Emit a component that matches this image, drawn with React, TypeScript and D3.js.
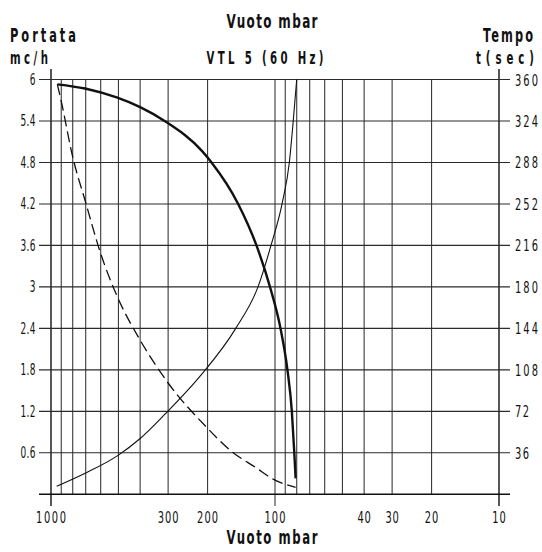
import React from "react";
import * as d3 from "d3";

// ---- data ----
const vacuumGrid = [1000, 900, 800, 700, 600, 500, 400, 300, 200, 100, 90, 80, 70, 60, 50, 40, 30, 20, 10];
const vacuumLabels = [1000, 300, 200, 100, 40, 30, 20, 10];
const flowTicks = [0.6, 1.2, 1.8, 2.4, 3, 3.6, 4.2, 4.8, 5.4, 6];
const flowTickLabels = ["0.6", "1.2", "1.8", "2.4", "3", "3.6", "4.2", "4.8", "5.4", "6"];
const timeTicks = [36, 72, 108, 144, 180, 216, 252, 288, 324, 360];

// Portata (mc/h) vs vuoto (mbar) - thick curve
const flowVacuum = [937, 705, 509, 400, 311, 211, 192, 146, 121, 105.3, 94.5, 88, 84.1, 82, 80.9];
const flowRate = [5.93, 5.87, 5.74, 5.6, 5.4, 4.96, 4.8, 4.2, 3.6, 3.0, 2.4, 1.8, 1.2, 0.6, 0.23];

// Tempo (sec) vs vuoto (mbar) - thin curve
const timeVacuum = [943, 700, 500, 400, 310, 216, 149.7, 119.1, 104.2, 93, 86.3, 82.9, 80.0];
const timeSec = [7, 18.5, 34, 48.4, 69.5, 102.5, 144, 180, 216, 252, 288, 324, 360];

// dashed curve (mc/h scale)
const dashVacuum = [937, 902, 800, 700, 604, 506, 400, 300, 200, 159, 121, 102, 80.9];
const dashValue = [5.93, 5.7, 4.88, 4.22, 3.51, 2.86, 2.23, 1.61, 0.955, 0.64, 0.38, 0.22, 0.1];

const W = 542;
const H = 552;
const FONT = "'DejaVu Sans', 'Liberation Sans', sans-serif";

type TxtProps = {
  x: number;
  y: number;
  text: string;
  size: number;
  w?: number;
  anchor?: "start" | "middle" | "end";
  bold?: boolean;
  sx?: number;
};

function Txt({ x, y, text, size, w, anchor = "start", bold = false, sx = 0.6 }: TxtProps) {
  return (
    <text
      transform={`translate(${x},${y}) scale(${sx},1)`}
      fontFamily={FONT}
      fontSize={size}
      fontWeight={bold ? "bold" : "normal"}
      textAnchor={anchor}
      textLength={w && text.length > 1 ? w / sx : undefined}
      lengthAdjust="spacing"
      fill="#111"
    >
      {text}
    </text>
  );
}

export default function App() {
  const x = d3.scaleLog().domain([1000, 10]).range([51, 499]);
  const yL = d3.scaleLinear().domain([0, 6]).range([494.3, 79.5]);
  const yR = d3.scaleLinear().domain([0, 360]).range([494.3, 79.5]);

  const top = yL(6);
  const bottom = yL(0);

  const lineL = d3
    .line<[number, number]>()
    .x((d) => x(d[0]))
    .y((d) => yL(d[1]))
    .curve(d3.curveMonotoneX);
  const lineR = d3
    .line<[number, number]>()
    .x((d) => x(d[0]))
    .y((d) => yR(d[1]))
    .curve(d3.curveMonotoneX);

  const flowPts = flowVacuum.map((p, i) => [p, flowRate[i]] as [number, number]);
  const timePts = timeVacuum.map((p, i) => [p, timeSec[i]] as [number, number]);
  const dashPts = dashVacuum.map((p, i) => [p, dashValue[i]] as [number, number]);

  const bottomW = (s: string) => (s.length === 4 ? 30 : s.length === 3 ? 21 : 13.5);

  return (
    <svg
      width={W}
      height={H}
      viewBox={`0 0 ${W} ${H}`}
      style={{ position: "absolute", left: 0, top: 0, display: "block", background: "#fff" }}
    >
      <rect x={0} y={0} width={W} height={H} fill="#fff" />

      {/* vertical grid */}
      {vacuumGrid.map((v) => {
        const isAxis = v === 1000 || v === 10;
        const long = isAxis || v === 100;
        return (
          <line
            key={"v" + v}
            x1={x(v)}
            x2={x(v)}
            y1={isAxis ? 69 : top}
            y2={long ? 506 : bottom}
            stroke={isAxis ? "#111" : "#3a3a3a"}
            strokeWidth={isAxis ? 1.4 : 1.1}
          />
        );
      })}

      {/* horizontal grid */}
      {[0, ...flowTicks].map((v) => (
        <line
          key={"h" + v}
          x1={39}
          x2={510}
          y1={yL(v)}
          y2={yL(v)}
          stroke={v === 0 ? "#111" : "#2a2a2a"}
          strokeWidth={v === 0 ? 1.4 : 1.1}
        />
      ))}

      {/* curves */}
      <path d={lineL(dashPts) || ""} fill="none" stroke="#111" strokeWidth={1.3} strokeDasharray="11,5" />
      <path d={lineR(timePts) || ""} fill="none" stroke="#111" strokeWidth={1.1} />
      <path d={lineL(flowPts) || ""} fill="none" stroke="#111" strokeWidth={2.4} />

      {/* left tick labels */}
      {flowTicks.map((v, i) => (
        <Txt
          key={"l" + v}
          x={35.5}
          y={yL(v) + 5.5}
          text={flowTickLabels[i]}
          size={15}
          w={15}
          anchor="end"
        />
      ))}

      {/* right tick labels */}
      {timeTicks.map((v) => {
        const s = String(v);
        return (
          <Txt
            key={"r" + v}
            x={515}
            y={yR(v) + 6}
            text={s}
            size={16.5}
            w={s.length === 3 ? 23 : 14}
            anchor="start"
          />
        );
      })}

      {/* bottom tick labels */}
      {vacuumLabels.map((v) => {
        const s = String(v);
        return (
          <Txt key={"b" + v} x={x(v)} y={523} text={s} size={16.5} w={bottomW(s)} anchor="middle" />
        );
      })}

      {/* titles */}
      <Txt x={272} y={27.7} text="Vuoto mbar" size={20} w={91} anchor="middle" bold />
      <Txt x={265} y={64} text="VTL 5 (60 Hz)" size={17} w={117} anchor="middle" bold />
      <Txt x={10} y={42} text="Portata" size={19} w={66} anchor="start" bold />
      <Txt x={10} y={64} text="mc/h" size={17} w={38} anchor="start" bold />
      <Txt x={533} y={42} text="Tempo" size={19} w={50} anchor="end" bold />
      <Txt x={534} y={64} text="t(sec)" size={17} w={58} anchor="end" bold />
      <Txt x={272} y={544} text="Vuoto mbar" size={19.5} w={91} anchor="middle" bold />
    </svg>
  );
}
